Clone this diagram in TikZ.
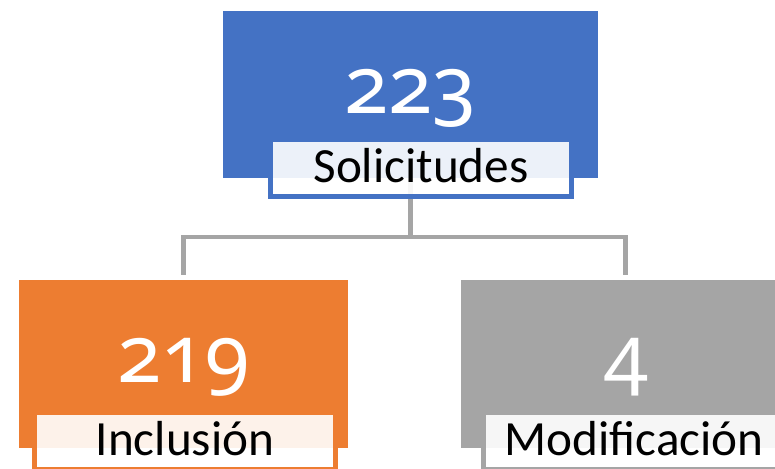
\documentclass[tikz,border=0pt]{standalone}
\usepackage{fontspec}
\setmainfont{Carlito}
\newfontfamily\countfont{Noto Sans}[Numbers=OldStyle]
\usetikzlibrary{calc,positioning}

\definecolor{boxblue}{HTML}{4472C4}
\definecolor{boxorange}{HTML}{ED7D31}
\definecolor{boxgray}{HTML}{A5A5A5}

\tikzset{
  block/.style={rectangle, inner sep=0pt, minimum height=3.36cm},
  tag/.style={rectangle, draw=#1, line width=2.8pt, fill=white, fill opacity=.9,
    text opacity=1, minimum width=6.02cm, minimum height=1.14cm, inner sep=0pt,
    text height=16pt, text depth=0pt, font=\fontsize{28}{30}\selectfont},
  count/.style={anchor=base, text=white, font=\countfont\fontsize{46}{52}\selectfont},
  link/.style={draw=boxgray, line width=2.8pt, shorten >=0.1cm}
}

\begin{document}
\begin{tikzpicture}[x=0.02cm,y=-0.02cm]

\useasboundingbox (0,0) rectangle (775,468);
\clip (0,0) rectangle (775,468);

% boxes
\node[block, fill=boxblue, minimum width=7.5cm] (top) at (410.5,94.5) {};
\node[block, fill=boxorange, minimum width=6.58cm] (left) at (183.5,364) {};
\node[block, fill=boxgray, minimum width=6.58cm] (right) at (625.5,364) {};

\node[count] (topnum) at (410.5,113) {223};
\node[count] (leftnum) at (183.5,382) {219};
\node[count] (rightnum) at (627,382) {4};

% connectors
\coordinate (bus) at (410.5,237);
\draw[link] (top.south) -- (bus) -| (left.north);
\draw[link] (bus) -| (right.north);

% tags
\node[tag=boxblue] (toptag) at (421,168) {Solicitudes};
\node[tag=boxorange] (lefttag) at (185,441) {Inclusión};
\node[tag=boxgray] (righttag) at (634,441) {Modificación};

\end{tikzpicture}
\end{document}
